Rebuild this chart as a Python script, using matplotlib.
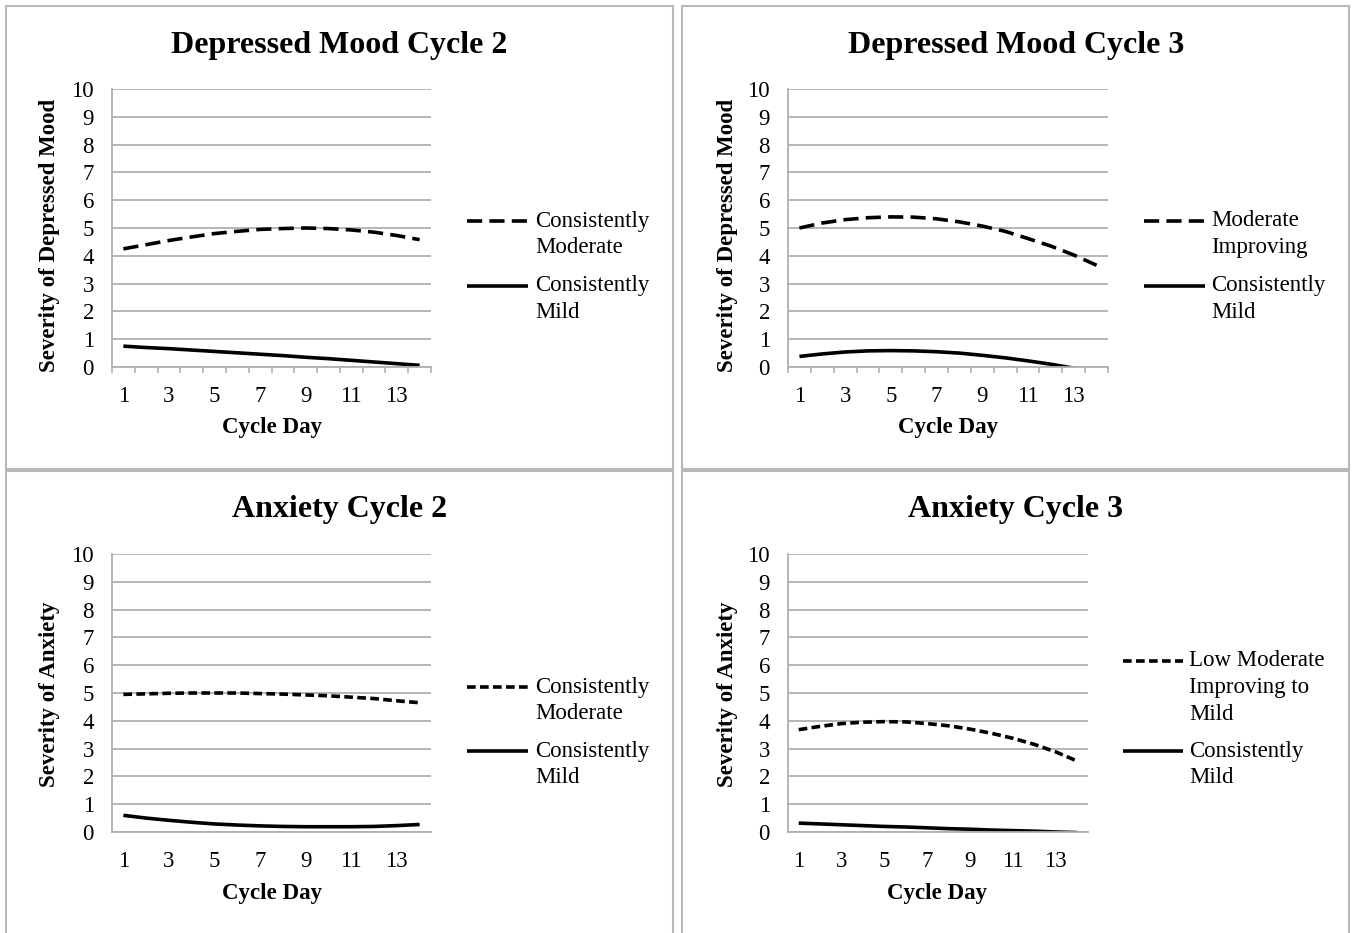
import matplotlib
matplotlib.use("Agg")
import matplotlib.pyplot as plt
from matplotlib.lines import Line2D
from matplotlib.patches import Rectangle

plt.rcParams['font.family'] = ['Liberation Serif', 'DejaVu Serif']

# cycle days on the x axis
days = list(range(1, 15))
day_labels = ['1', '3', '5', '7', '9', '11', '13']
y_ticks = list(range(0, 11))

# Depressed mood, cycle 2
dm2_moderate = [4.25, 4.40, 4.55, 4.68, 4.80, 4.88, 4.95, 4.98, 5.00, 4.98, 4.93, 4.85, 4.73, 4.58]
dm2_mild = [0.75, 0.70, 0.66, 0.61, 0.56, 0.51, 0.46, 0.41, 0.35, 0.30, 0.24, 0.18, 0.12, 0.06]
# Depressed mood, cycle 3
dm3_improving = [5.00, 5.18, 5.30, 5.37, 5.40, 5.39, 5.33, 5.22, 5.07, 4.88, 4.62, 4.35, 4.03, 3.66]
dm3_mild = [0.38, 0.47, 0.54, 0.58, 0.59, 0.58, 0.55, 0.50, 0.42, 0.33, 0.22, 0.10, -0.04, -0.20]
# Anxiety, cycle 2
anx2_moderate = [4.95, 4.97, 4.99, 5.00, 5.00, 5.00, 4.98, 4.96, 4.93, 4.90, 4.85, 4.80, 4.72, 4.65]
anx2_mild = [0.60, 0.50, 0.42, 0.35, 0.29, 0.25, 0.22, 0.20, 0.19, 0.19, 0.19, 0.20, 0.23, 0.27]
# Anxiety, cycle 3
anx3_improving = [3.68, 3.80, 3.90, 3.95, 3.97, 3.96, 3.90, 3.82, 3.70, 3.55, 3.37, 3.15, 2.88, 2.55]
anx3_mild = [0.32, 0.29, 0.26, 0.23, 0.20, 0.18, 0.15, 0.12, 0.10, 0.07, 0.05, 0.03, 0.00, -0.02]

W, H = 1353, 933
fig = plt.figure(figsize=(W / 100, H / 100), dpi=100)

def fx(x):
    return x / W

def fy(y):
    return 1 - y / H

GRID = '#b0b0b0'
BORDER = '#b8b8b8'
FS = 16.5
TFS = 23
long_dash = (0, (4.2, 2.0))
short_dash = (0, (2.4, 1.2))

panels = [
    dict(box=(6, 6, 673, 469), ax=(112, 89, 431, 367), title='Depressed Mood Cycle 2', tx=339, ty=45,
         ylabel='Severity of Depressed Mood', lx=50, ly=235, xlx=272, xly=428,
         series=[(dm2_moderate, 'Consistently\nModerate', long_dash), (dm2_mild, 'Consistently\nMild', '-')],
         leg=(467, 528, 535, [221, 286]), ticks=True),
    dict(box=(682, 6, 1349, 469), ax=(788, 89, 1108, 367), title='Depressed Mood Cycle 3', tx=1016, ty=45,
         ylabel='Severity of Depressed Mood', lx=727, ly=235, xlx=948, xly=428,
         series=[(dm3_improving, 'Moderate\nImproving', long_dash), (dm3_mild, 'Consistently\nMild', '-')],
         leg=(1144, 1205, 1211, [221, 286]), ticks=True),
    dict(box=(6, 471, 673, 945), ax=(112, 554, 431, 832), title='Anxiety Cycle 2', tx=340, ty=510,
         ylabel='Severity of Anxiety', lx=50, ly=694, xlx=272, xly=893,
         series=[(anx2_moderate, 'Consistently\nModerate', short_dash), (anx2_mild, 'Consistently\nMild', '-')],
         leg=(467, 528, 535, [687, 751]), ticks=False),
    dict(box=(682, 471, 1349, 945), ax=(788, 554, 1088, 832), title='Anxiety Cycle 3', tx=1016, ty=510,
         ylabel='Severity of Anxiety', lx=727, ly=694, xlx=937, xly=893,
         series=[(anx3_improving, 'Low Moderate\nImproving to\nMild', short_dash), (anx3_mild, 'Consistently\nMild', '-')],
         leg=(1123, 1183, 1189, [661, 751]), ticks=False),
]

for p in panels:
    bx0, by0, bx1, by1 = p['box']
    fig.add_artist(Rectangle((fx(bx0), fy(by1)), (bx1 - bx0) / W, (by1 - by0) / H,
                             transform=fig.transFigure, fill=False, edgecolor=BORDER, lw=1.5))

    x0, y0, x1, y1 = p['ax']
    ax = fig.add_axes([fx(x0), fy(y1), (x1 - x0) / W, (y1 - y0) / H])
    for vals, label, style in p['series']:
        ax.plot(days, vals, color='black', lw=2.6, linestyle=style, solid_capstyle='butt')
    ax.set_xlim(0.5, 14.5)
    ax.set_ylim(0, 10)
    ax.set_yticks(y_ticks)
    ax.set_xticks(days[::2])
    ax.set_xticklabels(day_labels)
    ax.grid(axis='y', color=GRID, lw=1.3)
    ax.set_axisbelow(True)
    for s in ['top', 'right']:
        ax.spines[s].set_visible(False)
    for s in ['left', 'bottom']:
        ax.spines[s].set_color(GRID)
        ax.spines[s].set_linewidth(1.3)
    ax.tick_params(axis='y', length=0, pad=13, labelsize=FS)
    ax.tick_params(axis='x', which='major', length=0, pad=14, labelsize=FS)
    if p['ticks']:
        ax.set_xticks([d - 0.5 for d in days] + [14.5], minor=True)
        ax.tick_params(axis='x', which='minor', length=4.5, width=1.2, color=GRID, direction='out')

    fig.text(fx(p['tx']), fy(p['ty']), p['title'], fontsize=TFS, fontweight='bold', ha='center', va='center')
    fig.text(fx(p['xlx']), fy(p['xly']), 'Cycle Day', fontsize=FS, fontweight='bold', ha='center', va='center')
    fig.text(fx(p['lx']), fy(p['ly']), p['ylabel'], fontsize=FS, fontweight='bold', ha='center', va='center',
             rotation=90)

    hx0, hx1, tx, rows = p['leg']
    for (vals, label, style), ry in zip(p['series'], rows):
        fig.add_artist(Line2D([fx(hx0), fx(hx1)], [fy(ry), fy(ry)], transform=fig.transFigure,
                              color='black', lw=2.6, linestyle=style, solid_capstyle='butt'))
        for i, line in enumerate(label.split('\n')):
            fig.text(fx(tx), fy(ry + 26.5 * i), line, fontsize=FS, ha='left', va='center')

fig.savefig('out.png', dpi=100)
